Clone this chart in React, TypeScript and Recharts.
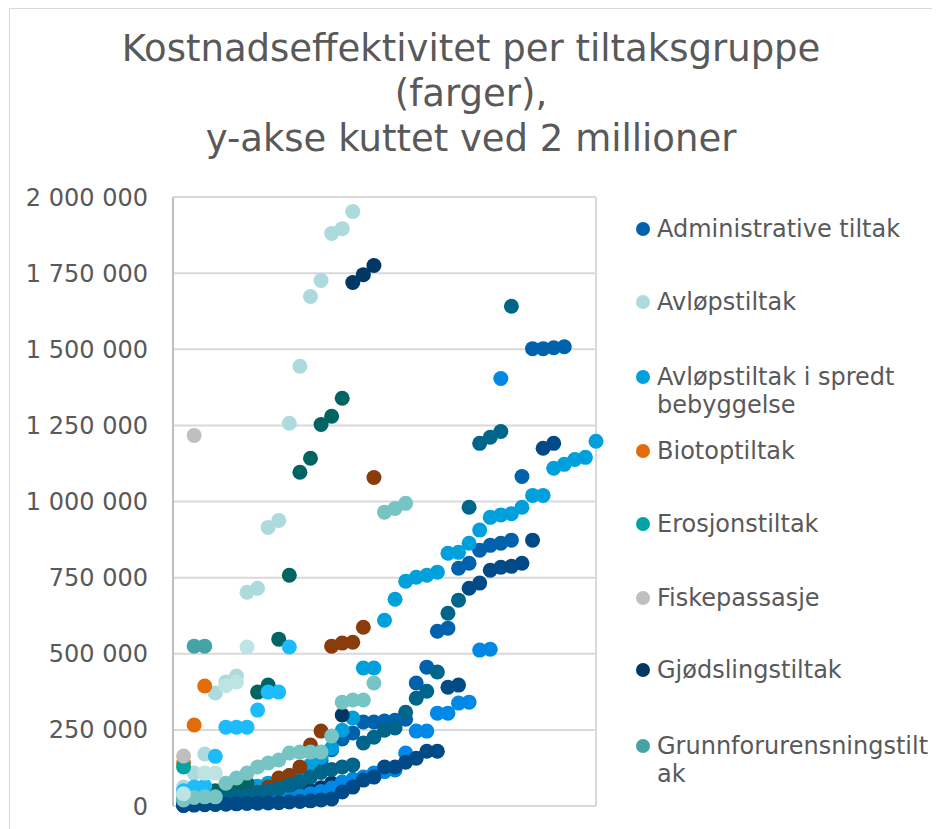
import React from 'react';
import { ScatterChart, Scatter, XAxis, YAxis, CartesianGrid } from 'recharts';

const titleLines = ['Kostnadseffektivitet per tiltaksgruppe', '(farger),', 'y-akse kuttet ved 2 millioner'];
const yTicks = [0, 250000, 500000, 750000, 1000000, 1250000, 1500000, 1750000, 2000000];
const xTicks = [0, 10, 20, 30, 40];

type P = [number, number];

const administrativeTiltak: P[] = [[1,4000],[2,6000],[3,9000],[4,12000],[5,16000],[6,20000],[7,26000],[8,32000],[9,40000],[10,48000],[11,58000],[12,90000],[13,110000],[14,150000],[15,185000],[16,220000],[17,240000],[18,276000],[19,276000],[20,279000],[21,282000],[22,285000],[23,404000],[24,456000],[25,574000],[26,584000],[27,781000],[28,797000],[29,840000],[30,856000],[31,863000],[32,873000],[33,1082000],[34,1502000],[35,1502000],[36,1505000],[37,1508000]];
const avlopstiltak: P[] = [[1,62000],[2,108000],[3,171000],[4,371000],[5,407000],[6,427000],[7,702000],[8,715000],[9,915000],[10,938000],[11,1257000],[12,1444000],[13,1673000],[14,1726000],[15,1880000],[16,1896000],[17,1952000]];
const avlopSpredt: P[] = [[1,10000],[2,15000],[3,20000],[4,28000],[5,36000],[6,45000],[7,55000],[8,65000],[9,75000],[10,88000],[11,100000],[12,115000],[13,135000],[14,160000],[15,190000],[16,249000],[17,289000],[18,453000],[19,453000],[20,610000],[21,679000],[22,738000],[23,751000],[24,758000],[25,768000],[26,830000],[27,833000],[28,863000],[29,906000],[30,948000],[31,956000],[32,960000],[33,981000],[34,1020000],[35,1020000],[36,1109000],[37,1122000],[38,1138000],[39,1145000],[40,1198000]];
const biotoptiltak: P[] = [[1,141000],[2,266000],[3,394000]];
const erosjonstiltak: P[] = [[1,128000]];
const fiskepassasje: P[] = [[1,40000],[1,164000],[2,1217000]];
const gjodslingstiltak: P[] = [[1,3000],[2,5000],[3,7000],[4,9000],[5,12000],[6,15000],[7,18000],[8,22000],[9,26000],[10,30000],[11,36000],[12,42000],[13,50000],[14,60000],[15,75000],[16,299000],[17,1719000],[18,1745000],[19,1775000]];
const grunnforurensning: P[] = [[1,25000],[2,525000],[3,525000]];
const gruppe9: P[] = [[1,15000],[2,25000],[3,35000],[4,50000],[5,58000],[6,66000],[7,75000],[8,374000],[9,397000],[10,548000],[11,758000],[12,1096000],[13,1142000],[14,1253000],[15,1280000],[16,1339000]];
const gruppe10: P[] = [[1,3000],[2,5000],[3,8000],[4,12000],[5,18000],[6,25000],[7,35000],[8,45000],[9,62000],[10,92000],[11,100000],[12,128000],[13,200000],[14,246000],[15,525000],[16,535000],[17,538000],[18,587000],[19,1079000]];
const gruppe11: P[] = [[1,3000],[2,4000],[3,5000],[4,6000],[5,8000],[6,10000],[7,12000],[8,15000],[9,18000],[10,22000],[11,27000],[12,33000],[13,40000],[14,48000],[15,59000],[16,79000],[17,88000],[18,95000],[19,108000],[20,113000],[21,118000],[22,174000],[23,246000],[24,246000],[25,305000],[26,305000],[27,338000],[28,341000],[29,512000],[30,515000],[31,1404000]];
const gruppe12: P[] = [[1,8000],[2,12000],[3,16000],[4,20000],[5,25000],[6,30000],[7,36000],[8,42000],[9,50000],[10,58000],[11,68000],[12,80000],[13,95000],[14,110000],[15,120000],[16,128000],[17,135000],[18,207000],[19,226000],[20,249000],[21,256000],[22,308000],[23,354000],[24,377000],[25,440000],[26,633000],[27,676000],[28,981000],[29,1191000],[30,1211000],[31,1230000],[32,1641000]];
const gruppe13: P[] = [[1,2000],[2,3000],[3,4000],[4,5000],[5,6000],[6,7000],[7,8000],[8,9000],[9,10000],[10,11000],[11,13000],[12,15000],[13,17000],[14,20000],[15,23000],[16,46000],[17,62000],[18,85000],[19,95000],[20,128000],[21,128000],[22,144000],[23,157000],[24,180000],[25,180000],[26,390000],[27,397000],[28,715000],[29,732000],[30,774000],[31,784000],[32,787000],[33,797000],[34,873000],[35,1175000],[36,1191000]];
const gruppe14: P[] = [[1,50000],[2,62000],[3,66000],[4,163000],[5,259000],[6,259000],[7,259000],[8,315000],[9,374000],[10,374000],[11,522000]];
const gruppe15: P[] = [[1,20000],[2,28000],[3,30000],[4,30000],[5,75000],[6,92000],[7,108000],[8,128000],[9,141000],[10,151000],[11,174000],[12,177000],[13,177000],[14,177000],[15,230000],[16,341000],[17,348000],[18,348000],[19,404000],[20,965000],[21,977000],[22,994000]];
const gruppe16: P[] = [[1,40000],[3,108000],[4,108000],[5,395000],[6,407000],[7,522000]];

const seriesDefs = [
  { name: 'Administrative tiltak', color: '#0062AC', pts: administrativeTiltak, legend: true },
  { name: 'Avløpstiltak', color: '#ADDBDD', pts: avlopstiltak, legend: true },
  { name: 'Avløpstiltak i spredt bebyggelse', color: '#00A0DC', pts: avlopSpredt, legend: true },
  { name: 'Biotoptiltak', color: '#E36C0A', pts: biotoptiltak, legend: true },
  { name: 'Erosjonstiltak', color: '#00A3A3', pts: erosjonstiltak, legend: true },
  { name: 'Fiskepassasje', color: '#BFBFBF', pts: fiskepassasje, legend: true },
  { name: 'Gjødslingstiltak', color: '#003764', pts: gjodslingstiltak, legend: true },
  { name: 'Grunnforurensningstiltak', color: '#46A3A5', pts: grunnforurensning, legend: true },
  { name: 'Gruppe 9', color: '#006462', pts: gruppe9, legend: false },
  { name: 'Gruppe 10', color: '#8A3C0C', pts: gruppe10, legend: false },
  { name: 'Gruppe 11', color: '#0088E6', pts: gruppe11, legend: false },
  { name: 'Gruppe 12', color: '#00658A', pts: gruppe12, legend: false },
  { name: 'Gruppe 13', color: '#004B87', pts: gruppe13, legend: false },
  { name: 'Gruppe 14', color: '#1CBBFC', pts: gruppe14, legend: false },
  { name: 'Gruppe 15', color: '#76C4C4', pts: gruppe15, legend: false },
  { name: 'Gruppe 16', color: '#BDE3E3', pts: gruppe16, legend: false },
];

const legendTops = [221, 294, 369, 443, 516, 590, 662, 738];

const fmt = (v: number) => String(v).replace(/\B(?=(\d{3})+(?!\d))/g, ' ');

const makeShape = (color: string) => (props: any) => (
  <circle cx={props.cx} cy={props.cy} r={7.5} fill={color} />
);

export default function App() {
  const font = '"DejaVu Sans", Verdana, sans-serif';
  const legendItems = seriesDefs.filter((s) => s.legend);
  return (
    <div style={{ position: 'relative', width: 932, height: 821, overflow: 'hidden', fontFamily: font, background: '#fff' }}>
      <div style={{ position: 'absolute', left: 1, top: 0, width: 927, height: 900, border: '1px solid #d9d9d9', boxSizing: 'border-box' }} />
      <div style={{ position: 'absolute', left: 0, top: 18, width: 926, textAlign: 'center', fontSize: 37, lineHeight: '45px', color: '#595959' }}>
        {titleLines.map((t, i) => (<div key={i}>{t}</div>))}
      </div>
      <div style={{ position: 'absolute', left: 0, top: 0 }}>
        <ScatterChart width={926} height={821} margin={{ top: 189, right: 338, bottom: 0, left: 0 }}>
          <CartesianGrid stroke="#d9d9d9" strokeWidth={2} />
          <XAxis type="number" dataKey="x" domain={[0, 40]} ticks={xTicks} tick={false} axisLine={false} tickLine={false} height={23} />
          <YAxis
            type="number"
            dataKey="y"
            domain={[0, 2000000]}
            ticks={yTicks}
            width={165}
            axisLine={{ stroke: '#bfbfbf', strokeWidth: 2 }}
            tickLine={false}
            tickSize={0}
            tickMargin={25}
            tickFormatter={fmt}
            tick={{ fill: '#595959', fontSize: 24, fontFamily: font }}
          />
          {seriesDefs.map((s) => (
            <Scatter
              key={s.name}
              name={s.name}
              data={s.pts.map(([x, y]) => ({ x, y }))}
              fill={s.color}
              shape={makeShape(s.color)}
              isAnimationActive={false}
            />
          ))}
        </ScatterChart>
      </div>
      {legendItems.map((s, i) => (
        <div key={s.name} style={{ position: 'absolute', left: 628, top: legendTops[i] - 14, display: 'flex', alignItems: 'flex-start' }}>
          <div style={{ width: 14, height: 14, borderRadius: 7, background: s.color, marginTop: 7, flex: 'none' }} />
          <div style={{ marginLeft: 7, width: 278, fontSize: 24, lineHeight: '28px', color: '#595959', overflowWrap: 'anywhere' }}>{s.name}</div>
        </div>
      ))}
    </div>
  );
}
